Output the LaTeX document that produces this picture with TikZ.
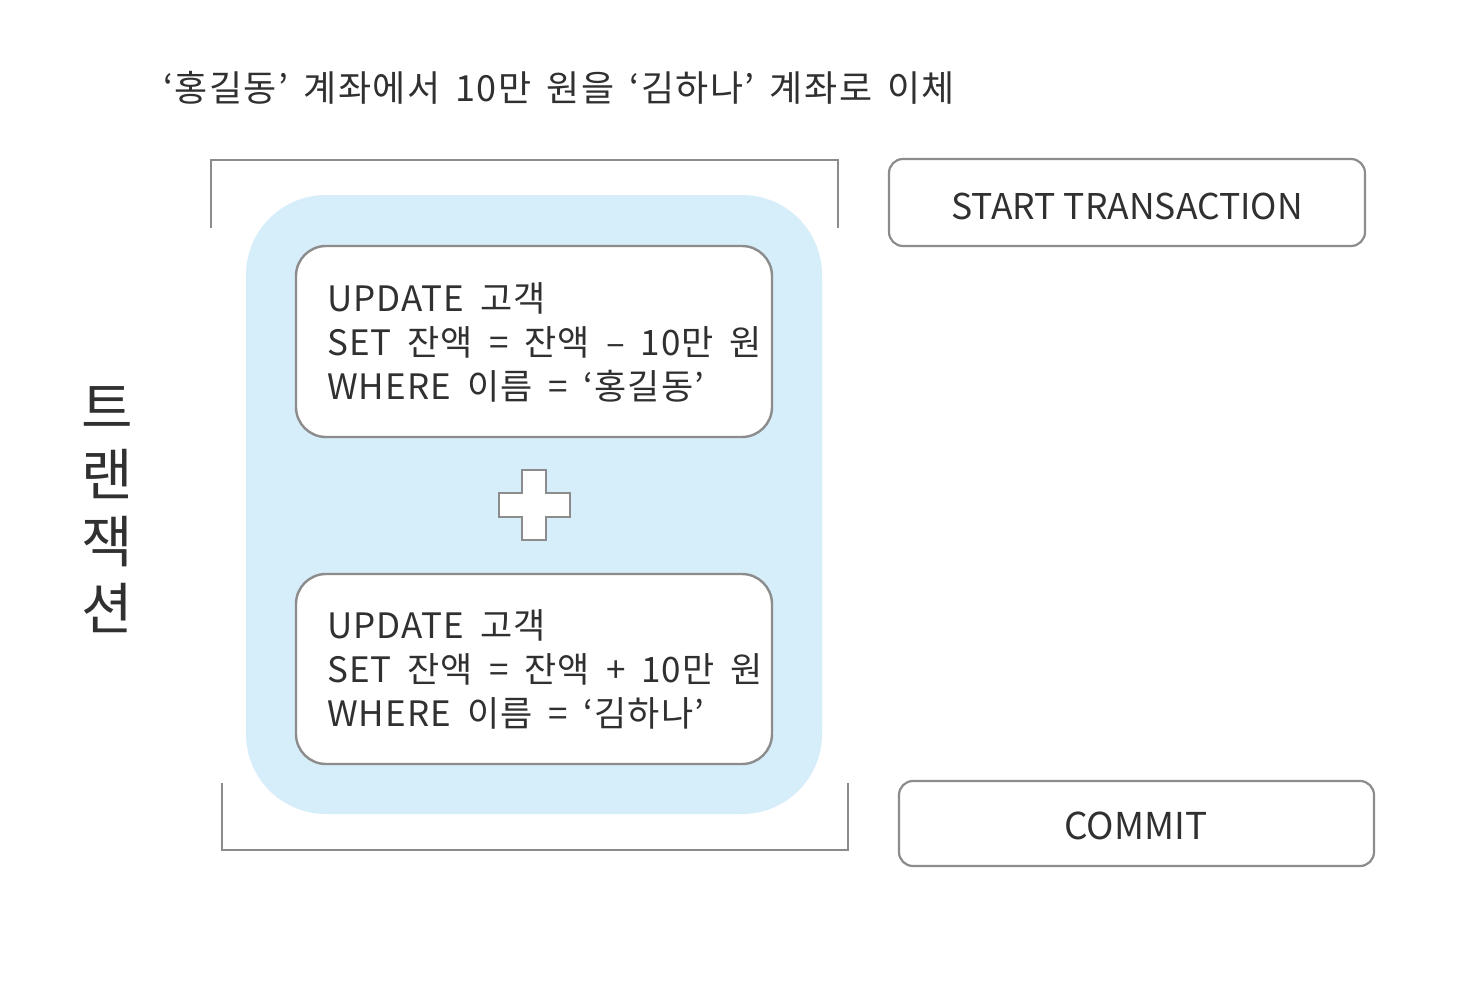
\documentclass[tikz,border=0pt]{standalone}
\usepackage{fontspec}
\setmainfont{Noto Sans CJK KR}
\newfontfamily\sqlfont{Noto Sans CJK KR}[WordSpace=1.8,LetterSpace=3]
\newfontfamily\titlefont{Noto Sans CJK KR}[WordSpace=1.6,LetterSpace=4]
\newfontfamily\vfont{Noto Sans CJK KR}
\usetikzlibrary{positioning}
\definecolor{txt}{HTML}{303030}
\definecolor{edge}{HTML}{8C8C8C}
\definecolor{pale}{HTML}{D6EDFA}
\tikzset{
  sqlbox/.style={draw=edge, line width=2.4pt, fill=white, rounded corners=30pt},
  cmdbox/.style={draw=edge, line width=2.2pt, fill=white, rounded corners=14pt},
  brk/.style={draw=edge, line width=2.4pt},
  sqltext/.style={anchor=west, text=txt, font=\sqlfont\fontsize{35}{44}\selectfont, align=left, inner sep=0pt},
  cmdtext/.style={text=txt, font=\fontsize{35.5}{40}\selectfont, inner sep=0pt}
}
\begin{document}
\begin{tikzpicture}[x=1pt,y=-1pt]
\useasboundingbox (0,0) rectangle (1478,999);
\fill[white] (0,0) rectangle (1478,999);

% title
\node[anchor=west, text=txt, font=\titlefont\fontsize{36}{40}\selectfont, inner sep=0pt] (title) at (163,88) {‘홍길동’ 계좌에서 10만 원을 ‘김하나’ 계좌로 이체};

% vertical label
\node[text=txt, font=\vfont\fontsize{56}{67}\selectfont, align=center, inner sep=0pt] (vlabel) at (107,510) {트\\랜\\잭\\션};

% brackets
\draw[brk] (211,228) -- (211,160) -- (838,160) -- (838,228);
\draw[brk] (222,783) -- (222,850) -- (848,850) -- (848,783);

% blue background
\fill[pale, rounded corners=80pt] (246,195) rectangle (822,814);

% sql boxes
\draw[sqlbox] (296,246) rectangle (772,437);
\node[sqltext] (q1) at (327,342) {UPDATE 고객\\SET 잔액 = 잔액 – 10만 원\\WHERE 이름 = ‘홍길동’};
\draw[sqlbox] (296,574) rectangle (772,764);
\node[sqltext] (q2) at (327,669) {UPDATE 고객\\SET 잔액 = 잔액 + 10만 원\\WHERE 이름 = ‘김하나’};

% plus
\draw[draw=edge, line width=2.2pt, fill=white]
  (522,470) -- (546,470) -- (546,493) -- (570,493) -- (570,517) -- (546,517)
  -- (546,540) -- (522,540) -- (522,517) -- (499,517) -- (499,493) -- (522,493) -- cycle;

% command boxes
\draw[cmdbox] (889,159) rectangle (1365,246);
\node[cmdtext] (start) at (1127,206) {START TRANSACTION};
\draw[cmdbox] (899,781) rectangle (1374,866);
\node[cmdtext, font=\fontsize{37}{40}\selectfont] (commit) at (1136,826) {COMMIT};
\end{tikzpicture}
\end{document}
